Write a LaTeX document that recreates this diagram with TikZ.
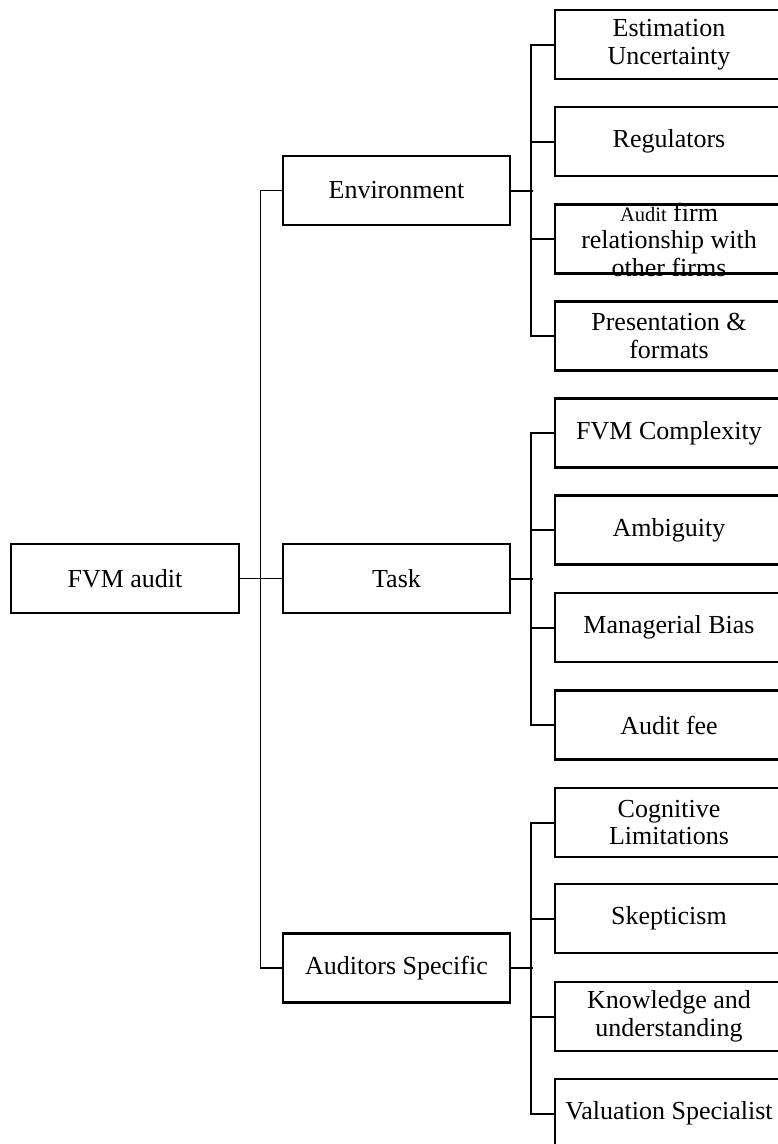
\documentclass[tikz,border=0pt]{standalone}
\usepackage{fontspec}
\setmainfont{Liberation Serif}
\begin{document}
\begin{tikzpicture}[x=1pt,y=-1pt,
  box/.style={draw=black,line width=2.2pt,rectangle,minimum width=228pt,minimum height=69pt,
    inner sep=0pt,align=center,font=\fontsize{26}{27.5}\selectfont},
  txt/.style={inner sep=0pt,align=center,font=\fontsize{26}{27.5}\selectfont},
  link/.style={line width=2pt,draw=black},
  trunk/.style={line width=1.8pt,draw=black}]
\useasboundingbox (0,0) rectangle (778,1144);
\clip (0,0) rectangle (778,1144);
\fill[white] (0,0) rectangle (778,1144);

% root and the three groups
\node[box] (root) at (125,578.5) {FVM audit};
\node[box,minimum width=227pt] (env) at (396.5,190.5) {Environment};
\node[box,minimum width=227pt] (task) at (396.5,578.5) {Task};
\node[box,minimum width=227pt] (aud) at (396.5,968) {Auditors Specific};

% environment factors
\node[box] (e1) at (669,44.5) {Estimation\\Uncertainty};
\node[box] (e2) at (669,141.5) {Regulators};
\node[box] (e3) at (669,239) {};
\node[txt] (e3t) at (669,239.5) {{\fontsize{20.5}{27.5}\selectfont Audit} firm\\relationship with\\other firms};
\node[box] (e4) at (669,336) {Presentation \&\\formats};

% task factors
\node[box] (t1) at (669,433) {FVM Complexity};
\node[box] (t2) at (669,530) {Ambiguity};
\node[box] (t3) at (669,627.5) {Managerial Bias};
\node[box] (t4) at (669,725) {Audit fee};

% auditor factors
\node[box] (a1) at (669,822.5) {Cognitive\\Limitations};
\node[box] (a2) at (669,918.5) {Skepticism};
\node[box] (a3) at (669,1016.5) {Knowledge and\\understanding};
\node[box] (a4) at (669,1113.5) {Valuation Specialist};

% trunk from the root to the groups
\draw[trunk] (root.east) -- (task.west);
\draw[trunk] (env.west) -- ++(-21.5,0) |- (aud.west);

% buses from each group to its factors
\draw[link] (env.east) -- ++(22,0);
\draw[link] (e1.west) -- ++(-23,0) |- (e4.west);
\draw[link] (e2.west) -- ++(-23,0);
\draw[link] (e3.west) -- ++(-23,0);

\draw[link] (task.east) -- ++(22,0);
\draw[link] (t1.west) -- ++(-23,0) |- (t4.west);
\draw[link] (t2.west) -- ++(-23,0);
\draw[link] (t3.west) -- ++(-23,0);

\draw[link] (aud.east) -- ++(22,0);
\draw[link] (a1.west) -- ++(-23,0) |- (a4.west);
\draw[link] (a2.west) -- ++(-23,0);
\draw[link] (a3.west) -- ++(-23,0);
\end{tikzpicture}
\end{document}
